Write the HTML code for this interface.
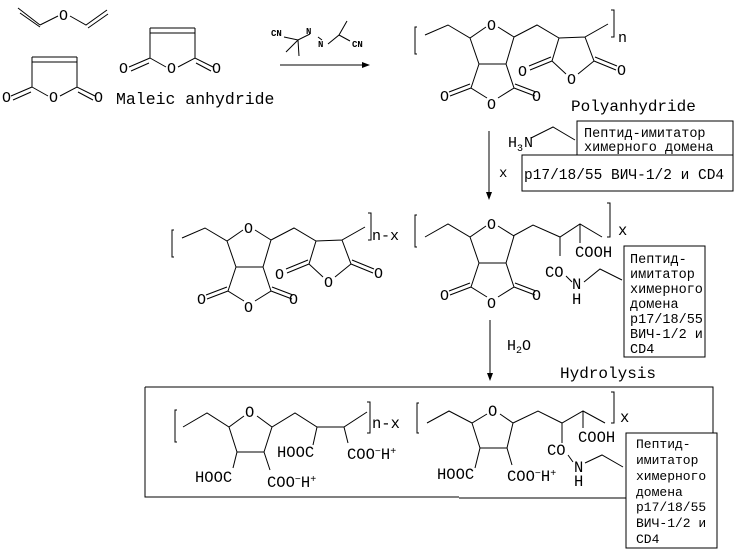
<!DOCTYPE html>
<html><head><meta charset="utf-8"><style>
body{margin:0;background:#fff}
svg{display:block}
text{font-family:"Liberation Mono","DejaVu Sans Mono",monospace;fill:#000}
.l{stroke:#000;stroke-width:1;fill:none}
</style></head><body>
<svg width="739" height="552" viewBox="0 0 739 552" xmlns="http://www.w3.org/2000/svg">
<g class="l">
<path d="M18,8 L40,25 M20,13 L40,27 M40,25 L58,16 M70,16 L86,25 L107,10 M88,28 L108,14"/>
<path d="M32,57 L77,57 M32,62 L77,62 M32,57 L32,87 M77,57 L77,87 M32,87 L11,96 M31,92 L13,100 M32,87 L48,96 M60,96 L77,87 L95,96 M78,92 L93,100"/>
<path d="M150,28 L195,28 M150,33 L195,33 M150,28 L150,58 M195,28 L195,58 M150,58 L129,67 M149,63 L131,71 M150,58 L166,67 M178,67 L195,58 L213,67 M196,63 L211,71"/>
<path d="M284,37 L298,40 L310,34 M298,40 L286,52 M298,40 L299,56 M318,37 L322,40 M328,44 L339,35 L347,21 M339,35 L350,41"/>
<path d="M280,65 L364,65"/>
</g>
<polygon points="370,65 362,62 362,68" fill="#000"/>
<g font-size="15">
<text x="59" y="20">O</text>
<text x="2" y="102">O</text><text x="49" y="102">O</text><text x="94" y="102">O</text>
<text x="119" y="73">O</text><text x="167" y="73">O</text><text x="212" y="73">O</text>
</g>
<text x="116" y="104" font-size="16.5">Maleic anhydride</text>
<g font-size="9" font-weight="bold">
<text x="271" y="36">CN</text><text x="306" y="34">N</text><text x="318" y="47">N</text><text x="352" y="47">CN</text>
</g>

<g>
<path class="l" d="M417,27 L415,27 L415,54 L417,54 M425,35 L448,25 L470,38 L486,27 M498,27 L514,37 M470,38 L479,64 L506,64 L514,37 M479,64 L471,88 L487,98 M506,64 L514,88 L498,98 M471,88 L450,96 M470,84 L449,92 M514,88 L535,96 M515,84 L536,92"/>
<path class="l" d="M514,37 L537,25 L559,38 L585,37 L608,24 M559,38 L552,61 L566,74 M585,37 L594,61 L578,74 M552,61 L530,70 M551,57 L529,66 M594,61 L616,70 M595,57 L617,66 M611,10 L614,10 L614,37 L611,37"/>
<g font-size="15">
<text x="487" y="30">O</text><text x="440" y="101">O</text><text x="487" y="109">O</text><text x="532" y="101">O</text>
<text x="518" y="76">O</text><text x="567" y="84">O</text><text x="617" y="75">O</text>
</g>
</g>
<text x="618" y="42" font-size="15">n</text>
<text x="571" y="111" font-size="16">Polyanhydride</text>
<path class="l" d="M531,138 L553,127 L575,140 M489,131 L489,196"/>
<polygon points="489,200 486,192 492,192" fill="#000"/>
<text x="508" y="147" font-size="15">H</text><text x="517" y="151" font-size="10">3</text><text x="524" y="147" font-size="15">N</text>
<rect x="577" y="121" width="156" height="34" fill="#fff" stroke="#000"/>
<text x="584" y="137" font-size="13.5">Пептид-имитатор</text>
<text x="584" y="151" font-size="13.5">химерного домена</text>
<rect x="522" y="155" width="211" height="36" fill="#fff" stroke="#000"/>
<text x="524" y="179" font-size="14.5">p17/18/55 ВИЧ-1/2 и CD4</text>
<text x="499" y="177" font-size="14">x</text>

<g transform="translate(-243,203)">
<path class="l" d="M417,27 L415,27 L415,54 L417,54 M425,35 L448,25 L470,38 L486,27 M498,27 L514,37 M470,38 L479,64 L506,64 L514,37 M479,64 L471,88 L487,98 M506,64 L514,88 L498,98 M471,88 L450,96 M470,84 L449,92 M514,88 L535,96 M515,84 L536,92"/>
<path class="l" d="M514,37 L537,25 L559,38 L585,37 L608,24 M559,38 L552,61 L566,74 M585,37 L594,61 L578,74 M552,61 L530,70 M551,57 L529,66 M594,61 L616,70 M595,57 L617,66 M611,10 L614,10 L614,37 L611,37"/>
<g font-size="15">
<text x="487" y="30">O</text><text x="440" y="101">O</text><text x="487" y="109">O</text><text x="532" y="101">O</text>
<text x="518" y="76">O</text><text x="567" y="84">O</text><text x="617" y="75">O</text>
</g>
</g>
<text x="372" y="240" font-size="15">n-x</text>

<g transform="translate(0,199)">
<path class="l" d="M417,16 L415,16 L415,48 L417,48 M425,38 L448,25 L470,38 L486,27 M498,27 L514,37 M470,38 L479,64 L506,64 L514,37 M479,64 L471,88 L487,98 M506,64 L514,88 L498,98 M471,88 L450,96 M470,84 L449,92 M514,88 L535,96 M515,84 L536,92"/>
<g font-size="15">
<text x="487" y="30">O</text><text x="440" y="101">O</text><text x="487" y="109">O</text><text x="532" y="101">O</text>
</g>
</g>
<path class="l" d="M513,236 L533,225 L560,237 L580,224 L602,237 M560,237 L560,256 M580,224 L580,243 M566,276 L572,282 M584,282 L600,269 L622,280 M607,203 L610,203 L610,237 L607,237 M490,320 L490,376"/>
<polygon points="490,381 487,373 493,373" fill="#000"/>
<g font-size="15.5">
<text x="618" y="235">x</text>
<text x="545" y="277">CO</text>
<text x="575" y="257">COOH</text>
<text x="572" y="289">N</text><text x="572" y="304">H</text>
</g>
<rect x="624" y="246" width="81" height="111" fill="#fff" stroke="#000"/>
<g font-size="13.5">
<text x="630" y="263">Пептид-</text><text x="630" y="278">имитатор</text><text x="630" y="293">химерного</text><text x="630" y="308">домена</text><text x="630" y="323">p17/18/55</text><text x="630" y="338">ВИЧ-1/2 и</text><text x="630" y="353">CD4</text>
</g>
<text x="507" y="350" font-size="15">H</text><text x="516" y="353" font-size="10">2</text><text x="522" y="350" font-size="15">O</text>
<text x="560" y="378" font-size="16">Hydrolysis</text>

<path class="l" d="M145,387 L713,387 L713,433 M145,387 L145,497 L459,497 M459,498 L626,498"/>
<path class="l" d="M177,410 L175,410 L175,442 L177,442 M183,427 L207,413 L229,427 L244,416 M257,416 L272,427 L295,413 L317,427 L344,427 L367,412 M229,427 L237,452 L264,452 L272,427 M237,452 L233,468 M264,452 L270,470 M317,427 L313,445 M344,427 L348,443 M367,402 L370,402 L370,433 L367,433"/>
<path class="l" d="M419,403 L417,403 L417,433 L419,433 M427,423 L449,411 L472,423 L487,414 M500,414 L513,423 L538,411 L562,423 L583,411 L605,423 M472,423 L480,448 L507,448 L513,423 M480,448 L475,468 M507,448 L512,465 M562,423 L562,443 M583,411 L583,428 M568,455 L573,462 M585,463 L602,455 L623,467 M611,392 L614,392 L614,423 L611,423"/>
<g font-size="15.5">
<text x="245" y="417">O</text>
<text x="195" y="482">HOOC</text>
<text x="267" y="487">COO<tspan font-size="10" dy="-5">−</tspan><tspan dy="5">H</tspan><tspan font-size="10" dy="-5">+</tspan></text>
<text x="277" y="457">HOOC</text>
<text x="347" y="459">COO<tspan font-size="10" dy="-5">−</tspan><tspan dy="5">H</tspan><tspan font-size="10" dy="-5">+</tspan></text>
<text x="372" y="428">n-x</text>
<text x="488" y="416">O</text>
<text x="437" y="479">HOOC</text>
<text x="507" y="481">COO<tspan font-size="10" dy="-5">−</tspan><tspan dy="5">H</tspan><tspan font-size="10" dy="-5">+</tspan></text>
<text x="620" y="422">x</text>
<text x="547" y="455">CO</text>
<text x="578" y="442">COOH</text>
<text x="574" y="472">N</text><text x="574" y="486">H</text>
</g>
<rect x="626" y="433" width="91" height="115" fill="#fff" stroke="#000"/>
<g font-size="13">
<text x="636" y="448">Пептид-</text><text x="636" y="464">имитатор</text><text x="636" y="480">химерного</text><text x="636" y="496">домена</text><text x="636" y="511">p17/18/55</text><text x="636" y="527">ВИЧ-1/2 и</text><text x="636" y="543">CD4</text>
</g>
</svg>
</body></html>
